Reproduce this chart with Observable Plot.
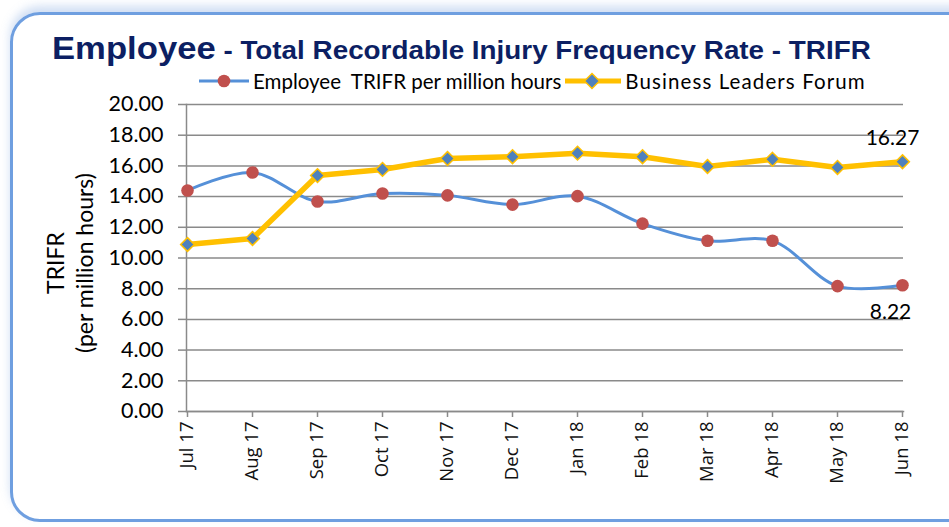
<!DOCTYPE html>
<html><head><meta charset="utf-8">
<script src="https://cdn.jsdelivr.net/npm/d3@7"></script>
<script src="https://cdn.jsdelivr.net/npm/@observablehq/plot@0.6"></script>
<style>
body{margin:0;width:949px;height:527px;overflow:hidden;background:#fff;position:relative;font-family:Lato,"Open Sans",sans-serif}
#frame{position:absolute;left:10px;top:12px;width:990px;height:504px;border:3px solid #6f9fe0;border-radius:30px;box-shadow:0 -6px 10px rgba(120,160,220,0.35)}
#title{position:absolute;left:52px;top:28px;color:#0c1f63;font-family:"Liberation Sans",Arial,sans-serif;font-weight:bold;white-space:nowrap;line-height:40px;transform:scaleX(1.1);transform-origin:0 0}
#title .big{font-size:31.5px}
#title .small{font-size:25.3px}
#legend{position:absolute;left:199px;top:69px;font-size:20.5px;white-space:pre;display:flex;align-items:center;color:#000}
#legend svg{display:block}
#chart{position:absolute;left:0;top:90px}
#ytitle{position:absolute;left:70px;top:263px;transform:translate(-50%,-50%) rotate(-90deg);font-size:23px;text-align:center;line-height:29px;white-space:nowrap}
</style></head>
<body>
<div id="frame"></div>
<div id="title"><span class="big">Employee</span><span class="small"> - Total Recordable Injury Frequency Rate - TRIFR</span></div>
<div id="legend"></div>
<div id="ytitle">TRIFR<br>(per million hours)</div>
<div id="chart"></div>
<script>
const months = ["Jul 17","Aug 17","Sep 17","Oct 17","Nov 17","Dec 17","Jan 18","Feb 18","Mar 18","Apr 18","May 18","Jun 18"];
const employeeTRIFR = [14.4,15.57,13.68,14.2,14.08,13.48,14.03,12.24,11.12,11.12,8.17,8.22];
const businessLeadersForum = [10.88,11.27,15.37,15.77,16.48,16.6,16.83,16.6,15.96,16.43,15.9,16.27];
const yTicks = [0,2,4,6,8,10,12,14,16,18,20];
const seriesNames = ["Employee  TRIFR per million hours","Business Leaders Forum"];

const blue = "#5590d8", red = "#c0504d", yellow = "#ffc000", diamondFill = "#4f81bd", axisGray = "#8a8a8a";

const emp = months.map((m,i)=>({m, v: employeeTRIFR[i]}));
const blf = months.map((m,i)=>({m, v: businessLeadersForum[i]}));
const last = months.length - 1;

// legend
const leg = document.getElementById("legend");
leg.innerHTML = `<svg width="54" height="22"><line x1="0" y1="11" x2="50" y2="11" stroke="${blue}" stroke-width="3"/><circle cx="25" cy="11" r="6.3" fill="${red}"/></svg><span>${seriesNames[0]}</span><svg width="60" height="22" style="margin-left:4px"><line x1="0" y1="11" x2="56" y2="11" stroke="${yellow}" stroke-width="5"/><path d="M27 3.5 L34.5 11 L27 18.5 L19.5 11 Z" fill="${diamondFill}" stroke="${yellow}" stroke-width="1.5"/></svg><span style="letter-spacing:1.1px">${seriesNames[1]}</span>`;

const chart = Plot.plot({
  width: 949,
  height: 431,
  marginTop: 14,
  marginBottom: 110,
  marginLeft: 186,
  marginRight: 46,
  style: {fontFamily: "Lato, 'Open Sans', sans-serif", background: "transparent", overflow: "visible"},
  x: {type: "point", domain: months, padding: 0},
  y: {domain: [0, 20]},
  marks: [
    Plot.gridY(yTicks, {stroke: axisGray, strokeOpacity: 1, strokeWidth: 1.5}),
    Plot.axisY({ticks: yTicks, text: null, tickSize: 8, stroke: axisGray, strokeWidth: 1.5, label: null}),
    Plot.text(yTicks, {y: d => d, frameAnchor: "left", text: d => d.toFixed(2), textAnchor: "end", dx: -23, fontSize: 21.5, fill: "#000"}),
    Plot.axisX({text: null, tickSize: 6, stroke: axisGray, strokeWidth: 1.5, label: null}),
    Plot.text(months, {x: d => d, frameAnchor: "bottom", rotate: -90, textAnchor: "end", lineAnchor: "middle", dy: 10, fontSize: 18.5, fontFamily: "'Open Sans', sans-serif", fill: "#111"}),
    Plot.frame({anchor: "left", stroke: axisGray, strokeWidth: 1.5}),
    Plot.frame({anchor: "bottom", stroke: axisGray, strokeWidth: 1.5}),
    Plot.line(emp, {x: "m", y: "v", stroke: blue, strokeWidth: 3, curve: "catmull-rom"}),
    Plot.line(blf, {x: "m", y: "v", stroke: yellow, strokeWidth: 5.5}),
    Plot.dot(emp, {x: "m", y: "v", r: 6.3, fill: red, stroke: "none"}),
    Plot.dot(blf, {x: "m", y: "v", symbol: "diamond2", r: 6.2, fill: diamondFill, stroke: yellow, strokeWidth: 1.5}),
    Plot.text([blf[last]], {x: "m", y: "v", text: d => d.v.toFixed(2), dy: -23, dx: -10, fontSize: 21, fill: "#000"}),
    Plot.text([emp[last]], {x: "m", y: "v", text: d => d.v.toFixed(2), dy: 27, dx: -12, fontSize: 21, fill: "#000"})
  ]
});
document.getElementById("chart").append(chart);
</script>
</body></html>
